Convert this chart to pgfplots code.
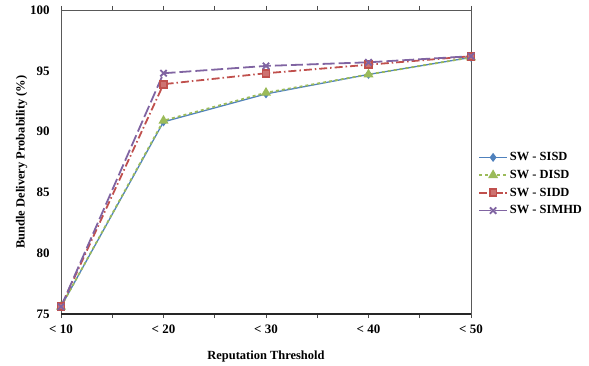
\documentclass[border=0pt]{standalone}
\usepackage{pgfplots}
\pgfplotsset{compat=1.18}
\usepackage{fontspec}
\setmainfont{Liberation Serif}
\definecolor{cblue}{HTML}{4F81BD}
\definecolor{cgreen}{HTML}{9BBB59}
\definecolor{cred}{HTML}{C0504D}
\definecolor{cpurple}{HTML}{8064A2}
\begin{document}
\begin{tikzpicture}[x=1bp,y=1bp]
\useasboundingbox (-61,-51) rectangle (528,314);
\begin{axis}[
  at={(0,0)}, anchor=south west,
  scale only axis, width=410bp, height=304bp,
  xmin=0, xmax=4, ymin=75, ymax=100,
  xtick={0,1,2,3,4},
  xticklabels={{< 10},{< 20},{< 30},{< 40},{< 50}},
  minor xtick={0.5,1.5,2.5,3.5},
  ytick={75,80,85,90,95,100},
  tick align=outside,
  tick style={black!70, line width=0.8pt},
  major tick length=4bp, minor tick length=4bp,
  ytick style={draw=none},
  axis line style={gray!70!black, line width=0.8pt},
  every tick label/.append style={font=\fontsize{13}{15}\selectfont\bfseries},
  /pgf/number format/assume math mode=true,
  xlabel={\bfseries Reputation Threshold},
  ylabel={\bfseries Bundle Delivery Probability (\%)},
  label style={font=\fontsize{12.5}{14}\selectfont},
  xlabel shift=11bp,
  ylabel shift=-4bp,
  xticklabel style={yshift=-3bp},
  yticklabel style={xshift=-4bp},
  clip=false,
  legend style={at={(1,0.5)}, anchor=west, xshift=4bp, yshift=-22bp, draw=none, fill=none,
    font=\fontsize{12.5}{14}\selectfont\bfseries, row sep=4bp,
    legend cell align=left},
  legend image code/.code={\draw[mark repeat=2,mark phase=2] plot coordinates {(0bp,0bp) (14bp,0bp) (28bp,0bp)};},
]
\draw[black!85, line width=1.4pt] (axis cs:0,75) -- (axis cs:4,75);
\addplot[cblue, line width=1.3pt, mark=diamond*, mark size=3.5pt, mark options={solid, fill=cblue}]
  coordinates {(0,75.6) (1,90.8) (2,93.1) (3,94.7) (4,96.1)};
\addlegendentry{SW - SISD}
\addplot[cgreen, line width=1.8pt, dashed, mark=triangle*, mark size=4pt, mark options={solid, fill=cgreen}]
  coordinates {(0,75.6) (1,90.9) (2,93.2) (3,94.7) (4,96.1)};
\addlegendentry{SW - DISD}
\addplot[cred, line width=1.8pt, dash pattern=on 8pt off 3pt on 1.5pt off 3pt, mark=square*, mark size=3.5pt, mark options={solid, fill=cred!80}]
  coordinates {(0,75.6) (1,93.9) (2,94.8) (3,95.5) (4,96.2)};
\addlegendentry{SW - SIDD}
\addplot[cpurple, line width=1.8pt, dash pattern=on 12pt off 4pt, mark=x, mark size=4.5pt, mark options={solid, line width=1.8pt}]
  coordinates {(0,75.6) (1,94.8) (2,95.4) (3,95.7) (4,96.2)};
\addlegendentry{SW - SIMHD}
\end{axis}
\end{tikzpicture}
\end{document}
